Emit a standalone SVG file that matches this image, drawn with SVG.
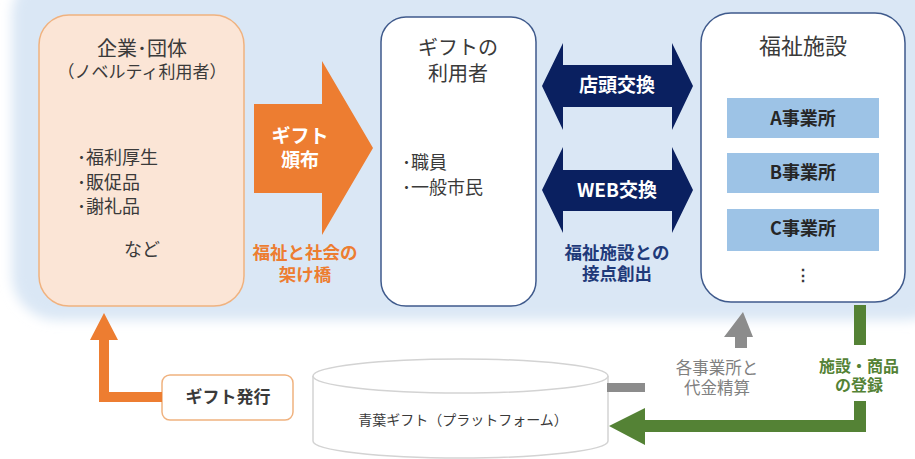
<svg xmlns="http://www.w3.org/2000/svg" width="915" height="459" viewBox="0 0 915 459">
<defs>
<filter id="soft" x="-10%" y="-20%" width="120%" height="140%"><feGaussianBlur stdDeviation="6"/></filter>
<style>
text{font-family:"Noto Sans CJK JP","Noto Sans",sans-serif;text-anchor:middle;fill:#3a3a3a}
.l{text-anchor:start}
.b{font-weight:bold}
.w{fill:#ffffff;font-weight:bold}
.box{fill:#ffffff;stroke:#3f5a8c;stroke-width:1.5}
.sub{fill:#9dc3e6}
.sublbl{font-weight:bold;font-size:18px;fill:#262626}
</style>
</defs>
<rect x="12" y="-30" width="940" height="350" rx="45" fill="#dae7f5" filter="url(#soft)"/>

<g id="companies">
<rect x="39" y="15" width="205" height="291" rx="30" fill="#fbe5d6" stroke="#f0b27f" stroke-width="1.5"/>
<text x="142" y="56" font-size="20">企業･団体<tspan x="142" y="77.5" font-size="17">（ノベルティ利用者）</tspan></text>
<text class="l" x="77" y="164" font-size="18">･福利厚生<tspan x="77" y="189">･販促品</tspan><tspan x="77" y="213">･謝礼品</tspan></text>
<text x="142" y="256" font-size="18">など</text>
</g>

<g id="users">
<rect x="381" y="17" width="155" height="289" rx="25" class="box"/>
<text x="458" y="55" font-size="20">ギフトの<tspan x="458" y="81">利用者</tspan></text>
<text class="l" x="402" y="169" font-size="18">･職員<tspan x="402" y="194">･一般市民</tspan></text>
</g>

<g id="facilities">
<rect x="701" y="13" width="204" height="289" rx="30" class="box"/>
<text x="803" y="53.5" font-size="22">福祉施設</text>
<g id="officeA"><rect x="727" y="98" width="152" height="40" class="sub"/><text x="803" y="124.5" class="sublbl">A事業所</text></g>
<g id="officeB"><rect x="727" y="153" width="152" height="40" class="sub"/><text x="803" y="178.5" class="sublbl">B事業所</text></g>
<g id="officeC"><rect x="727" y="209" width="152" height="42" class="sub"/><text x="803" y="234.5" class="sublbl">C事業所</text></g>
<text x="803" y="281" font-size="16" font-weight="bold" fill="#262626">⋮</text>
</g>

<g id="gift-issue">
<rect x="162" y="375" width="131" height="45" rx="8" fill="#ffffff" stroke="#f0b27f" stroke-width="1.5"/>
<text x="228" y="402.5" font-size="17" class="b" fill="#262626">ギフト発行</text>
</g>

<g id="platform">
<path d="M313,376 L313,441 A147.5,17 0 0 0 608,441 L608,376" fill="#ffffff" stroke="#d3d3d3" stroke-width="1.5"/>
<ellipse cx="460.5" cy="376" rx="147.5" ry="17" fill="#ffffff" stroke="#d3d3d3" stroke-width="1.5"/>
<text x="463" y="425" font-size="14" fill="#404040">青葉ギフト（プラットフォーム）</text>
</g>

<g id="connectors">
<polygon points="254,104 322,104 322,61 373,148 322,235 322,193 254,193" fill="#ed7d31"/>
<text x="300" y="143" font-size="19" class="w">ギフト<tspan x="300" y="166.5">頒布</tspan></text>
<text x="305" y="259" font-size="17.5" class="b" style="fill:#ed7d31">福祉と社会の<tspan x="305" y="281">架け橋</tspan></text>

<polygon points="542,86 563,43 563,65 672,65 672,43 693,86 672,130 672,107 563,107 563,130" fill="#0a2060"/>
<text x="617" y="92" font-size="19" class="w">店頭交換</text>
<polygon points="542,190 563,147 563,170 672,170 672,147 693,190 672,233 672,211 563,211 563,233" fill="#0a2060"/>
<text x="617" y="196.5" font-size="19" class="w">WEB交換</text>
<text x="617" y="258.5" font-size="17.5" class="b" style="fill:#1f3a7a">福祉施設との<tspan x="617" y="280">接点創出</tspan></text>

<polygon points="162,392 109,392 109,340 118,340 104,313 90,340 99,340 99,402 162,402" fill="#ed7d31"/>

<polygon points="743,312 753,337 747,337 747,348 735,348 735,337 724,337" fill="#8c8c8c"/>
<rect x="607" y="383" width="38" height="9" fill="#8c8c8c"/>
<text x="717" y="374" font-size="16.5" style="fill:#808080">各事業所と<tspan x="717" y="393.5">代金精算</tspan></text>

<rect x="854" y="305" width="12" height="40" fill="#548235"/>
<polygon points="854,401 866,401 866,432 645,432 645,445 609,426 645,408 645,420 854,420" fill="#548235"/>
<text x="859" y="372" font-size="16" class="b" style="fill:#548235">施設・商品<tspan x="859" y="390.5">の登録</tspan></text>
</g>
</svg>
